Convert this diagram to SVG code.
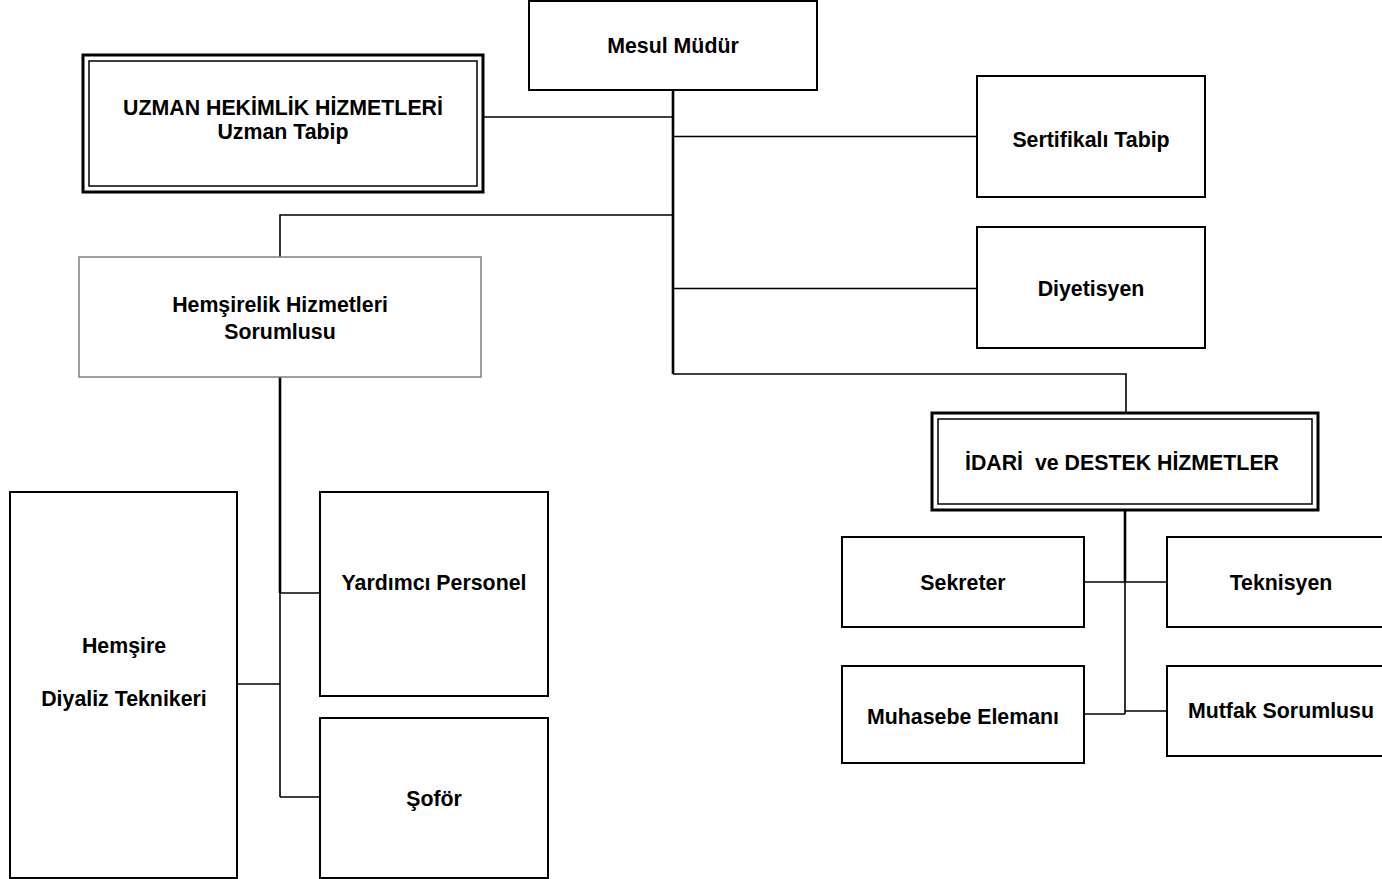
<svg xmlns="http://www.w3.org/2000/svg" width="1382" height="879" viewBox="0 0 1382 879">
<style>
.box{fill:#fff;stroke:#000;stroke-width:2}
.grey{fill:#fff;stroke:#808080;stroke-width:1.5}
.outer{fill:#fff;stroke:#000;stroke-width:3}
.inner{fill:none;stroke:#000;stroke-width:1.5}
.c{fill:none;stroke:#000;stroke-width:1.6}
.ct{fill:none;stroke:#000;stroke-width:2.6}
text{font-family:"Liberation Sans",Arial,sans-serif;font-weight:bold;font-size:21.33px;fill:#000;text-anchor:middle}
</style>
<rect width="1382" height="879" fill="#fff"/>
<g id="connectors">
<path class="ct" d="M673 90V374"/>
<path class="c" d="M483 117H673"/>
<path class="c" d="M673 136.5H977"/>
<path class="c" d="M673 215H280V257"/>
<path class="c" d="M673 288.5H977"/>
<path class="c" d="M673 374H1126V413"/>
<path class="ct" d="M1125 510V582"/>
<path class="c" d="M1125 582V714"/>
<path class="c" d="M1084 582H1167"/>
<path class="c" d="M1084 714H1125"/>
<path class="c" d="M1125 711H1167"/>
<path class="ct" d="M280 377V593"/>
<path class="c" d="M280 593V797"/>
<path class="c" d="M280 593H320"/>
<path class="c" d="M237 684H280"/>
<path class="c" d="M280 797H320"/>
</g>
<g id="mesul">
<rect class="box" x="529" y="1" width="288" height="89"/>
<text x="673" y="53">Mesul Müdür</text>
</g>
<g id="uzman">
<rect class="outer" x="83" y="55" width="400" height="137"/>
<rect class="inner" x="89" y="61" width="388" height="125"/>
<text x="283" y="115">UZMAN HEKİMLİK HİZMETLERİ</text>
<text x="283" y="139">Uzman Tabip</text>
</g>
<g id="sertifikali">
<rect class="box" x="977" y="76" width="228" height="121"/>
<text x="1091" y="147">Sertifikalı Tabip</text>
</g>
<g id="diyetisyen">
<rect class="box" x="977" y="227" width="228" height="121"/>
<text x="1091" y="296">Diyetisyen</text>
</g>
<g id="hemsirelik">
<rect class="grey" x="79" y="257" width="402" height="120"/>
<text x="280" y="312">Hemşirelik Hizmetleri</text>
<text x="280" y="339">Sorumlusu</text>
</g>
<g id="idari">
<rect class="outer" x="932" y="413" width="386" height="97"/>
<rect class="inner" x="938" y="419" width="374" height="85"/>
<text x="1122" y="470" xml:space="preserve">İDARİ  ve DESTEK HİZMETLER</text>
</g>
<g id="sekreter">
<rect class="box" x="842" y="537" width="242" height="90"/>
<text x="963" y="590">Sekreter</text>
</g>
<g id="teknisyen">
<rect class="box" x="1167" y="537" width="230" height="90"/>
<text x="1281" y="590">Teknisyen</text>
</g>
<g id="muhasebe">
<rect class="box" x="842" y="666" width="242" height="97"/>
<text x="963" y="724">Muhasebe Elemanı</text>
</g>
<g id="mutfak">
<rect class="box" x="1167" y="666" width="230" height="90"/>
<text x="1281" y="718">Mutfak Sorumlusu</text>
</g>
<g id="hemsire">
<rect class="box" x="10" y="492" width="227" height="386"/>
<text x="124" y="653">Hemşire</text>
<text x="124" y="706">Diyaliz Teknikeri</text>
</g>
<g id="yardimci">
<rect class="box" x="320" y="492" width="228" height="204"/>
<text x="434" y="590">Yardımcı Personel</text>
</g>
<g id="sofor">
<rect class="box" x="320" y="718" width="228" height="160"/>
<text x="434" y="806">Şoför</text>
</g>
</svg>
